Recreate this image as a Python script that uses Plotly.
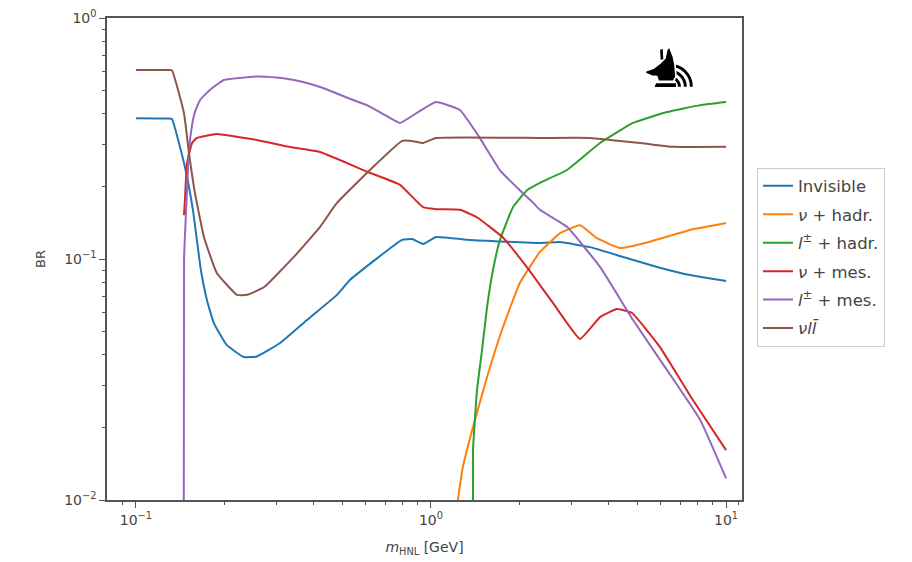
import base64
import plotly.graph_objects as go

# HNL branching ratios vs. mass (GeV)
inv_m = [0.1, 0.128, 0.1324, 0.1466, 0.156, 0.166, 0.174, 0.1837, 0.203, 0.232, 0.257, 0.308,
         0.380, 0.480, 0.531, 0.798, 0.863, 0.940, 1.04, 1.355, 2.34, 2.74, 3.46, 4.48,
         5.84, 7.55, 10.0]
inv_br = [0.384, 0.383, 0.381, 0.241, 0.160, 0.090, 0.0676, 0.0542, 0.044, 0.0392, 0.0394,
          0.0448, 0.0558, 0.071, 0.0818, 0.120, 0.121, 0.1154, 0.1234, 0.120, 0.1165, 0.1175,
          0.112, 0.102, 0.0927, 0.0858, 0.081]

nuhad_m = [1.215, 1.234, 1.282, 1.388, 1.549, 1.754, 2.00, 2.34, 2.74, 3.20, 3.65, 4.38,
           5.52, 7.55, 10.0]
nuhad_br = [0.007, 0.01, 0.0137, 0.0201, 0.0324, 0.0522, 0.0795, 0.107, 0.128, 0.138, 0.122,
            0.111, 0.118, 0.132, 0.141]

lhad_m = [1.386, 1.388, 1.388, 1.432, 1.489, 1.549, 1.622, 1.713, 1.896, 2.115, 2.34, 2.89,
          3.74, 4.84, 6.31, 8.17, 10.0]
lhad_br = [0.005, 0.01, 0.0161, 0.0286, 0.0419, 0.0632, 0.090, 0.120, 0.164, 0.193, 0.207,
           0.234, 0.303, 0.367, 0.407, 0.435, 0.448]

numes_m = [0.1455, 0.1466, 0.149, 0.155, 0.161, 0.188, 0.257, 0.330, 0.421, 0.611, 0.785,
           0.940, 1.04, 1.253, 1.43, 1.75, 2.11, 2.59, 3.20, 3.74, 4.27, 4.80, 5.97, 7.72, 10.0]
numes_br = [0.152, 0.176, 0.250, 0.303, 0.318, 0.330, 0.312, 0.292, 0.278, 0.2296, 0.203,
            0.164, 0.161, 0.160, 0.149, 0.123, 0.0927, 0.0657, 0.0466, 0.0574, 0.062, 0.0597,
            0.0431, 0.026, 0.0161]

lmes_m = [0.1452, 0.1456, 0.149, 0.1513, 0.155, 0.1585, 0.165, 0.178, 0.1986, 0.2254, 0.257,
          0.300, 0.343, 0.380, 0.421, 0.466, 0.544, 0.607, 0.698, 0.785, 0.904, 1.04, 1.253,
          1.456, 1.71, 2.00, 2.22, 2.34, 2.89, 3.74, 4.84, 6.31, 8.17, 10.0]
lmes_br = [0.005, 0.1, 0.193, 0.283, 0.36, 0.407, 0.457, 0.503, 0.553, 0.564, 0.572, 0.566,
           0.553, 0.537, 0.517, 0.493, 0.457, 0.435, 0.396, 0.367, 0.407, 0.448, 0.415, 0.321,
           0.234, 0.193, 0.171, 0.160, 0.136, 0.0927, 0.0558, 0.0346, 0.0215, 0.0123]

nll_m = [0.1, 0.128, 0.1324, 0.1455, 0.1513, 0.1585, 0.170, 0.188, 0.220, 0.238, 0.272, 0.343,
         0.421, 0.480, 0.621, 0.798, 0.863, 0.940, 1.04, 2.34, 3.46, 4.04, 5.11, 6.61, 10.0]
nll_br = [0.608, 0.608, 0.607, 0.403, 0.275, 0.188, 0.1234, 0.0875, 0.071, 0.071, 0.0765, 0.102,
          0.136, 0.1708, 0.234, 0.309, 0.309, 0.303, 0.318, 0.318, 0.318, 0.312, 0.303, 0.292,
          0.292]

series = [
    ("Invisible", inv_m, inv_br, "#1f77b4"),
    ("<i>ν</i> + hadr.", nuhad_m, nuhad_br, "#ff7f0e"),
    ("<i>l</i><sup>±</sup> + hadr.", lhad_m, lhad_br, "#2ca02c"),
    ("<i>ν</i> + mes.", numes_m, numes_br, "#d62728"),
    ("<i>l</i><sup>±</sup> + mes.", lmes_m, lmes_br, "#9467bd"),
    ("<i>νl</i><i>l\u0304</i>", nll_m, nll_br, "#8c564b"),
]

x_ticks = [0.1, 1, 10]
x_ticktext = ["10<sup>−1</sup>", "10<sup>0</sup>", "10<sup>1</sup>"]
y_ticks = [0.01, 0.1, 1]
y_ticktext = ["10<sup>−2</sup>", "10<sup>−1</sup>", "10<sup>0</sup>"]
x_minor = [0.09] + [k * 0.1 for k in range(2, 10)] + list(range(2, 10)) + [11]
y_minor = [k * 0.01 for k in range(2, 10)] + [k * 0.1 for k in range(2, 10)]

fig = go.Figure()
for i, (name, m, br, col) in enumerate(series):
    fig.add_trace(go.Scatter(x=m, y=br, mode="lines", name=name, legendgroup=str(i),
                             line=dict(color=col, width=2, shape="spline", smoothing=0.35)))

axis_common = dict(
    type="log", showgrid=False, zeroline=False, showline=True, mirror=True,
    automargin=False,
    linecolor="#555", linewidth=1.5, ticks="outside", ticklen=6, tickwidth=1.2,
    tickcolor="#555", tickfont=dict(family="DejaVu Sans", size=14, color="#444"),
)

fig.update_xaxes(
    **axis_common,
    range=[-1.098, 1.054],
    tickvals=x_ticks, ticktext=x_ticktext,
    minor=dict(tickvals=x_minor, ticks="outside", ticklen=3, tickcolor="#555"),
    title=dict(text="<i>m</i><sub>HNL</sub> [GeV]", standoff=16,
               font=dict(family="DejaVu Sans", size=14, color="#444")),
)
fig.update_yaxes(
    **axis_common,
    range=[-2, 0],
    tickvals=y_ticks, ticktext=y_ticktext,
    minor=dict(tickvals=y_minor, ticks="outside", ticklen=3, tickcolor="#555"),
    title=dict(text="BR", standoff=16,
               font=dict(family="DejaVu Sans", size=13, color="#444")),
)

# small emblem in the upper right of the plot area
logo_svg = (
    '<svg xmlns="http://www.w3.org/2000/svg" viewBox="60 10 165 140">'
    '<g fill="none" stroke="black" stroke-width="9">'
    '<path d="M150 112 A28 28 0 0 1 178 140"/>'
    '<path d="M150 94 A46 46 0 0 1 196 140"/>'
    '<path d="M150 76 A64 64 0 0 1 214 140"/>'
    '</g>'
    '<path d="M148 20 L160 50 L165 75 L168 110 L160 124 L115 124 L110 110 L95 108 '
    'L75 100 L78 92 L100 85 L120 70 L135 55 L140 30 Z" fill="black" stroke="white" '
    'stroke-width="5"/>'
    '<path d="M120 30 L128 28 L130 58 L122 60 Z" fill="black"/>'
    '<path d="M108 130 L168 130 L168 141 L104 141 Z" fill="black"/>'
    '</svg>'
)
logo_src = "data:image/svg+xml;base64," + base64.b64encode(logo_svg.encode()).decode()
fig.add_layout_image(dict(source=logo_src, xref="paper", yref="paper", x=0.8394, y=0.948,
                          sizex=0.0866, sizey=0.0975, xanchor="left", yanchor="top",
                          sizing="stretch", layer="above"))

fig.update_layout(
    width=912, height=562,
    margin=dict(l=107, r=170, t=18, b=62),
    paper_bgcolor="white", plot_bgcolor="white",
    font=dict(family="DejaVu Sans", color="#444"),
    legend=dict(x=1.0236, y=0.504, xanchor="left", yanchor="middle",
                bordercolor="#cccccc", borderwidth=1, bgcolor="white",
                font=dict(family="DejaVu Sans", size=16.5, color="#444"),
                tracegroupgap=4, itemwidth=30),
    showlegend=True,
)

fig.write_html("out.html")
